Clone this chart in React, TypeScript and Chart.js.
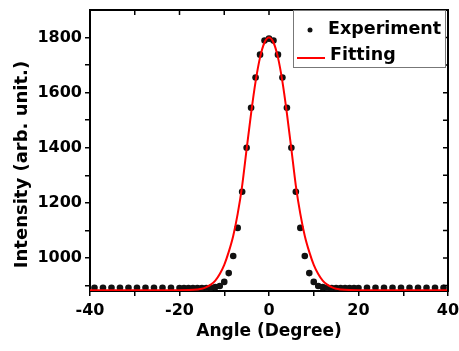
import React, { useEffect, useRef } from "react";
import { Chart, registerables } from "chart.js";

Chart.register(...registerables);

// ---- data ----
const expAngle = [
  -39, -37.1, -35.2, -33.3, -31.4, -29.5, -27.6, -25.7, -23.8, -21.9,
  -20, -19, -18, -17, -16, -15, -14, -13, -12, -11, -10, -9, -8, -7, -6, -5, -4, -3, -2, -1,
  0, 1, 2, 3, 4, 5, 6, 7, 8, 9, 10, 11, 12, 13, 14, 15, 16, 17, 18, 19, 20,
  21.9, 23.8, 25.7, 27.6, 29.5, 31.4, 33.3, 35.2, 37.1, 39,
];
const expIntensity = [
  892, 892, 892, 892, 892, 892, 892, 892, 892, 892,
  891, 891, 891, 891, 891, 891, 891, 892, 894, 898, 913, 945, 1007, 1109, 1240, 1400, 1545, 1655, 1738, 1789,
  1796, 1789, 1738, 1655, 1545, 1400, 1240, 1109, 1007, 945, 913, 898, 894, 892, 891, 891, 891, 891, 891, 891, 891,
  892, 892, 892, 892, 892, 892, 892, 892, 892, 892,
];
const fitAngle = [
  -40, -30, -20, -18, -16, -15, -14, -13, -12, -11, -10, -9, -8, -7, -6, -5, -4, -3, -2, -1,
  0, 1, 2, 3, 4, 5, 6, 7, 8, 9, 10, 11, 12, 13, 14, 15, 16, 18, 20, 30, 40,
];
const fitIntensity = [
  883, 883, 883, 883.5, 885.5, 888, 894, 903, 918, 942, 975, 1022, 1080, 1160, 1262, 1395, 1525, 1640, 1728, 1782,
  1800, 1782, 1728, 1640, 1525, 1395, 1262, 1160, 1080, 1022, 975, 942, 918, 903, 894, 888, 885.5, 883.5, 883, 883, 883,
];
const xTickValues = [-40, -30, -20, -10, 0, 10, 20, 30, 40];
const xLabelValues = [-40, -20, 0, 20, 40];
const yTickValues = [900, 1000, 1100, 1200, 1300, 1400, 1500, 1600, 1700, 1800];
const yLabelValues = [1000, 1200, 1400, 1600, 1800];
const seriesNames = ["Experiment", "Fitting"];
const xTitle = "Angle (Degree)";
const yTitle = "Intensity (arb. unit.)";

const FONT = "'DejaVu Sans', sans-serif";

const framePlugin = {
  id: "frame",
  afterDraw(chart: any) {
    const { ctx, chartArea, scales } = chart;
    const { left, right, top, bottom } = chartArea;
    const x = scales.x;
    const y = scales.y;
    ctx.save();
    ctx.strokeStyle = "#000";
    // top & right frame
    ctx.lineWidth = 2;
    ctx.beginPath();
    ctx.moveTo(left - 1, top);
    ctx.lineTo(right, top);
    ctx.lineTo(right, bottom + 1);
    ctx.stroke();
    // inward ticks on top and right
    ctx.lineWidth = 1.5;
    ctx.beginPath();
    x.ticks.forEach((t: any) => {
      const px = x.getPixelForValue(t.value);
      if (px > left + 2 && px < right - 2) {
        ctx.moveTo(px, top);
        ctx.lineTo(px, top + 5);
      }
    });
    y.ticks.forEach((t: any) => {
      const py = y.getPixelForValue(t.value);
      if (py > top + 2 && py < bottom - 2) {
        ctx.moveTo(right, py);
        ctx.lineTo(right - 5, py);
      }
    });
    ctx.stroke();

    // axis titles
    ctx.fillStyle = "#000";
    ctx.font = `bold 17px ${FONT}`;
    ctx.textAlign = "center";
    ctx.textBaseline = "middle";
    ctx.fillText(xTitle, (left + right) / 2, bottom + 41);
    ctx.save();
    ctx.translate(22, (top + bottom) / 2 + 14);
    ctx.rotate(-Math.PI / 2);
    ctx.font = `bold 18px ${FONT}`;
    ctx.fillText(yTitle, 0, 0);
    ctx.restore();

    // legend box
    const ds = chart.data.datasets;
    const bx = right - 155;
    const by = top;
    const bw = 152;
    const bh = 57;
    ctx.fillStyle = "#fff";
    ctx.fillRect(bx, by, bw, bh);
    ctx.strokeStyle = "#777";
    ctx.lineWidth = 1;
    ctx.strokeRect(bx + 0.5, by + 0.5, bw, bh);
    ctx.font = `bold 17.5px ${FONT}`;
    ctx.textAlign = "left";
    ctx.textBaseline = "middle";
    ctx.fillStyle = "#000";
    // experiment row
    ctx.beginPath();
    ctx.arc(bx + 17, by + 20, 2.5, 0, Math.PI * 2);
    ctx.fillStyle = ds[0].pointBackgroundColor;
    ctx.fill();
    ctx.fillStyle = "#000";
    ctx.fillText(ds[0].label, bx + 35, by + 19);
    // fitting row
    ctx.strokeStyle = ds[1].borderColor;
    ctx.lineWidth = 2;
    ctx.beginPath();
    ctx.moveTo(bx + 4, by + 48);
    ctx.lineTo(bx + 32, by + 48);
    ctx.stroke();
    ctx.fillText(ds[1].label, bx + 37, by + 45);
    ctx.restore();
  },
};

export default function App() {
  const ref = useRef<HTMLCanvasElement>(null);
  useEffect(() => {
    if (!ref.current) return;
    const chart = new Chart(ref.current, {
      type: "scatter",
      data: {
        datasets: [
          {
            label: seriesNames[0],
            data: expAngle.map((a, i) => ({ x: a, y: expIntensity[i] })),
            showLine: false,
            pointRadius: 3.3,
            pointBackgroundColor: "#111",
            pointBorderColor: "#111",
            pointBorderWidth: 0,
            order: 2,
          },
          {
            label: seriesNames[1],
            data: fitAngle.map((a, i) => ({ x: a, y: fitIntensity[i] })),
            showLine: true,
            pointRadius: 0,
            borderColor: "#ff0000",
            backgroundColor: "#ff0000",
            borderWidth: 2,
            cubicInterpolationMode: "monotone",
            order: 1,
          },
        ],
      },
      options: {
        responsive: false,
        animation: false,
        devicePixelRatio: 1,
        layout: { padding: { top: 10, right: 11, left: 0, bottom: 0 } },
        plugins: { legend: { display: false }, tooltip: { enabled: false } },
        scales: {
          x: {
            type: "linear",
            min: -40,
            max: 40,
            afterBuildTicks: (s: any) => {
              s.ticks = xTickValues.map((v) => ({ value: v }));
            },
            afterFit: (s: any) => {
              s.height = 60;
              s.paddingLeft = 0;
              s.paddingRight = 0;
            },
            ticks: {
              autoSkip: false,
              maxRotation: 0,
              padding: 5,
              color: "#000",
              font: { family: FONT, weight: "bold", size: 16 },
              callback: (v: any) => (xLabelValues.includes(Number(v)) ? String(v) : ""),
            },
            grid: { drawOnChartArea: false, drawTicks: true, tickLength: 5, color: "#000", lineWidth: 1.5 },
            border: { display: true, color: "#000", width: 2 },
          },
          y: {
            type: "linear",
            min: 880,
            max: 1900,
            afterBuildTicks: (s: any) => {
              s.ticks = yTickValues.map((v) => ({ value: v }));
            },
            afterFit: (s: any) => {
              s.width = 90;
              s.paddingTop = 0;
              s.paddingBottom = 0;
            },
            ticks: {
              autoSkip: false,
              padding: 3,
              color: "#000",
              font: { family: FONT, weight: "bold", size: 16 },
              callback: (v: any) => (yLabelValues.includes(Number(v)) ? String(v) : ""),
            },
            grid: { drawOnChartArea: false, drawTicks: true, tickLength: 5, color: "#000", lineWidth: 1.5 },
            border: { display: true, color: "#000", width: 2 },
          },
        },
      },
      plugins: [framePlugin],
    } as any);
    return () => chart.destroy();
  }, []);
  return (
    <div style={{ position: "fixed", left: 0, top: 0, width: 459, height: 351, background: "#fff" }}>
      <canvas ref={ref} width={459} height={351} style={{ display: "block", width: 459, height: 351 }} />
    </div>
  );
}
